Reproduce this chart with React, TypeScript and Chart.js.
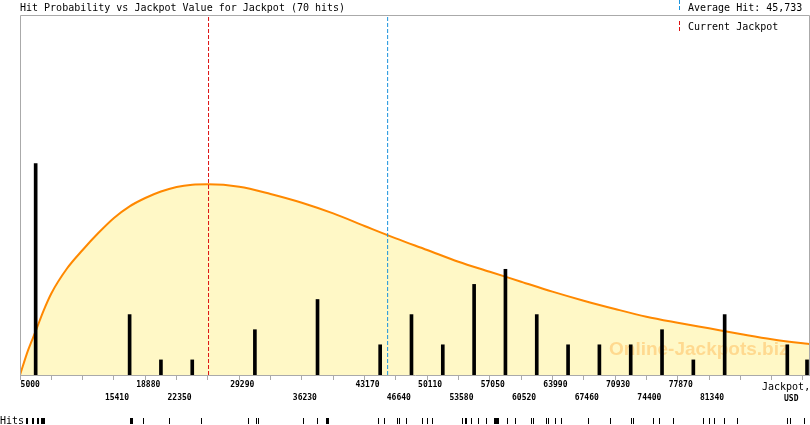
import React, { useEffect, useRef } from 'react';
import { Chart, registerables } from 'chart.js';

Chart.register(...registerables);

// x axis ticks (jackpot, USD) - a label is shown only under bins that got hits
const tickValues = [5000, 8470, 11940, 15410, 18880, 22350, 25820, 29290, 32760, 36230, 39700, 43170, 46640,
  50110, 53580, 57050, 60520, 63990, 67460, 70930, 74400, 77870, 81340, 84810, 88280, 91750];
const tickLabels = ['5000', '', '', '15410', '18880', '22350', '', '29290', '', '36230', '', '43170', '46640',
  '50110', '53580', '57050', '60520', '63990', '67460', '70930', '74400', '77870', '81340', '', '', ''];

// hits per jackpot bin
const binCenters = [6735, 17145, 20615, 24085, 31025, 37965, 44905, 48375, 51845, 55315, 58785, 62255,
  65725, 69195, 72665, 76135, 79605, 83075, 90015, 92200];
const binHits = [14, 4, 1, 1, 3, 5, 2, 4, 2, 6, 7, 4, 2, 2, 2, 3, 1, 4, 2, 1];

// fitted hit probability curve
const curveX = [5000, 5868, 6735, 7603, 8470, 10205, 11940, 13675, 15410, 17145, 18880, 20615, 22350, 24085,
  25820, 29290, 32760, 36230, 39700, 43170, 46640, 50110, 53580, 57050, 60520, 63990, 67460, 70930, 74400,
  77870, 81340, 84810, 88280, 91750, 92530];
const curveY = [0, 1.6, 2.9, 4.25, 5.4, 7.05, 8.28, 9.4, 10.4, 11.17, 11.72, 12.15, 12.45, 12.6,
  12.63, 12.47, 11.99, 11.41, 10.7, 9.87, 9.05, 8.28, 7.5, 6.84, 6.18, 5.52, 4.92, 4.37, 3.86,
  3.46, 3.09, 2.72, 2.37, 2.1, 2.05];

// single hits (rug under the axis)
const hitValues = [5720, 5790, 5830, 6390, 6440, 6500, 6940, 7000, 7050, 7380, 7490, 7600, 7680, 7720,
  17240, 17300, 17470, 18680, 21560, 25110, 30320, 31200, 31430,
  36410, 37960, 38960, 39070, 39180, 44720, 45390, 46830, 47050, 47820, 49600, 50170, 50700,
  54030, 54360, 54470, 55030, 55800, 56690, 57575, 57686, 57797, 57908, 58018, 59015, 59900,
  61670, 61900, 63340, 63560, 64330, 65000, 67990, 70430, 72750, 72980, 75190, 75860, 77410,
  80730, 81400, 81950, 83060, 84500, 90040, 90370, 91920];

const currentJackpot = 25890;
const averageHit = 45733;
const hitCount = 70;

const X_MIN = 5000;
const X_MAX = 92530;
const Y_MAX = 23.84;
const CURVE_INDEX = 3;

const MONO = '"DejaVu Sans Mono", monospace';
const RED = '#dd1111';
const BLUE = '#1a93dd';
const GREY = '#aaaaaa';

const labeledIdx = tickLabels.map((l, i) => (l ? i : -1)).filter((i) => i >= 0);

const decor = {
  id: 'decor',
  afterDatasetDraw(chart: any, args: any) {
    if (args.index !== CURVE_INDEX) return;
    const ctx = chart.ctx;
    ctx.save();
    ctx.font = 'bold 19px "Liberation Sans", Arial, sans-serif';
    ctx.fillStyle = 'rgba(255, 160, 40, 0.35)';
    ctx.textBaseline = 'alphabetic';
    ctx.textAlign = 'left';
    ctx.fillText('Online-Jackpots.biz', 609, 355);
    ctx.restore();
  },
  afterDraw(chart: any) {
    const { ctx, chartArea } = chart;
    const { left, top, right, bottom } = chartArea;
    ctx.save();
    // frame
    ctx.strokeStyle = GREY;
    ctx.lineWidth = 1;
    ctx.beginPath();
    ctx.moveTo(left + 0.5, bottom);
    ctx.lineTo(left + 0.5, top + 0.5);
    ctx.lineTo(right - 0.5, top + 0.5);
    ctx.lineTo(right - 0.5, bottom);
    ctx.stroke();

    // texts
    ctx.fillStyle = '#000';
    ctx.textAlign = 'left';
    ctx.textBaseline = 'alphabetic';
    ctx.font = '10px ' + MONO;
    ctx.fillText('Hit Probability vs Jackpot Value for Jackpot (' + hitCount + ' hits)', 20, 11);
    ctx.fillText('Average Hit: ' + averageHit.toLocaleString('en-US'), 688, 11);
    ctx.fillText('Current Jackpot', 688, 30);
    ctx.fillText('Jackpot,', 762, 390);
    ctx.fillText('Hits', 0, 424);
    ctx.font = 'bold 8px ' + MONO;
    ctx.fillText('USD', 784, 401);

    // legend dashes
    ctx.setLineDash([4, 2]);
    ctx.strokeStyle = BLUE;
    ctx.beginPath();
    ctx.moveTo(679.5, 0);
    ctx.lineTo(679.5, 11);
    ctx.stroke();
    ctx.strokeStyle = RED;
    ctx.beginPath();
    ctx.moveTo(679.5, 21);
    ctx.lineTo(679.5, 33);
    ctx.stroke();
    ctx.setLineDash([]);

    // rug of single hits
    const xs = chart.scales.x;
    ctx.strokeStyle = '#000';
    ctx.beginPath();
    hitValues.forEach((v) => {
      const px = Math.floor(xs.getPixelForValue(v)) + 0.5;
      ctx.moveTo(px, 418);
      ctx.lineTo(px, 424);
    });
    ctx.stroke();
    ctx.restore();
  },
};

const App: React.FC = () => {
  const canvasRef = useRef<HTMLCanvasElement>(null);

  useEffect(() => {
    const vline = (x: number, color: string) => ({
      type: 'line' as const,
      data: [{ x, y: 0 }, { x, y: Y_MAX }],
      borderColor: color,
      borderWidth: 1,
      borderDash: [4, 2],
      pointRadius: 0,
      fill: false,
    });

    const chart = new Chart(canvasRef.current as HTMLCanvasElement, {
      type: 'line',
      data: {
        datasets: [
          {
            type: 'bar',
            data: binCenters.map((x, i) => ({ x, y: binHits[i] })),
            backgroundColor: '#000',
            borderWidth: 0,
            barThickness: 3,
          } as any,
          vline(currentJackpot, RED),
          vline(averageHit, BLUE),
          {
            type: 'line',
            data: curveX.map((x, i) => ({ x, y: curveY[i] })),
            borderColor: '#ff8800',
            borderWidth: 2,
            backgroundColor: '#fff8c6',
            fill: 'origin',
            pointRadius: 0,
            cubicInterpolationMode: 'monotone',
          },
        ],
      },
      options: {
        responsive: false,
        animation: false,
        layout: { autoPadding: false, padding: { left: 20, right: 0, top: 15, bottom: 0 } },
        plugins: {
          legend: { display: false },
          tooltip: { enabled: false },
        },
        scales: {
          x: {
            type: 'linear',
            min: X_MIN,
            max: X_MAX,
            offset: false,
            afterBuildTicks: (s: any) => {
              s.ticks = tickValues.map((value) => ({ value }));
            },
            afterFit: (s: any) => {
              s.height = 50;
            },
            grid: {
              display: true,
              drawOnChartArea: false,
              drawTicks: true,
              tickLength: 5,
              color: GREY,
              offset: false,
            },
            border: { display: true, color: GREY },
            ticks: {
              autoSkip: false,
              maxRotation: 0,
              minRotation: 0,
              padding: -1,
              labelOffset: 3,
              color: '#000',
              font: { family: MONO, size: 8, weight: 'bold', lineHeight: 1.5625 },
              callback: (_v: any, i: number) => {
                const lab = tickLabels[i];
                if (!lab) return '';
                const text = i === 0 ? '   ' + lab : lab;
                return labeledIdx.indexOf(i) % 2 === 0 ? [text] : ['', text];
              },
            },
          },
          y: { display: false, min: 0, max: Y_MAX },
        },
      },
      plugins: [decor],
    } as any);

    return () => {
      chart.destroy();
    };
  }, []);

  return (
    <div style={{ position: 'absolute', left: 0, top: 0 }}>
      <canvas ref={canvasRef} width="810" height="425" style={{ display: 'block' }} />
    </div>
  );
};

export default App;
